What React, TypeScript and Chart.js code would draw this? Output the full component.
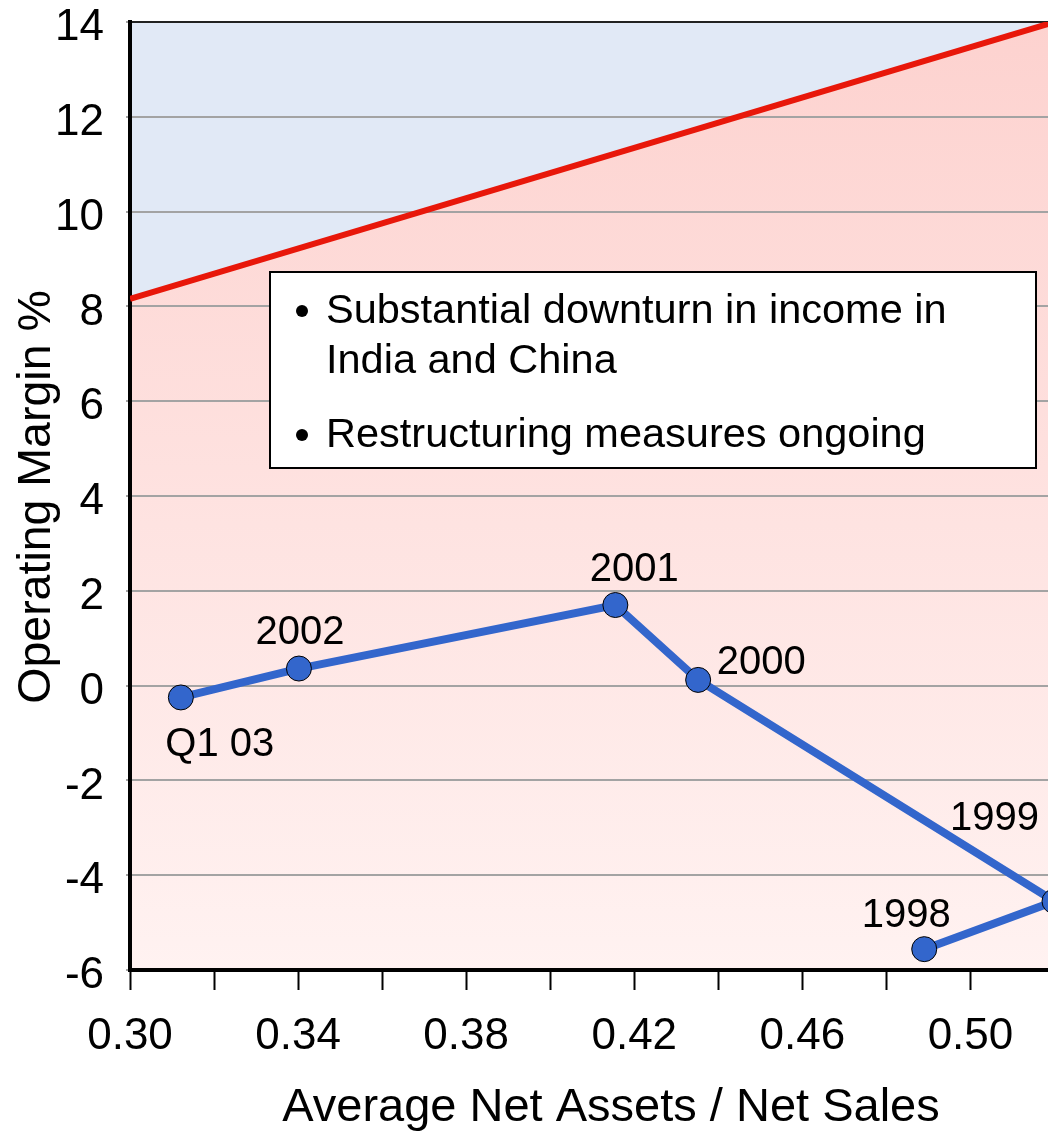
import React, { useEffect, useRef } from 'react';
import { Chart, registerables } from 'chart.js';

Chart.register(...registerables);

// ---- data ----
const pointLabels = ['Q1 03', '2002', '2001', '2000', '1999', '1998'];
const netAssetsRatio = [0.3121, 0.3402, 0.4155, 0.4352, 0.52, 0.489];
const operatingMargin = [-0.25, 0.36, 1.7, 0.12, -4.55, -5.56];
const thresholdX = [0.3, 0.52];
const thresholdY = [8.16, 14.0];
const xMajorTicks = ['0.30', '0.34', '0.38', '0.42', '0.46', '0.50'];
const xTitle = 'Average Net Assets / Net Sales';
const yTitle = 'Operating Margin %';
const noteBullets = ['Substantial downturn in income in|India and China', 'Restructuring measures ongoing'];

// ---- style ----
const FONT = '"Liberation Sans", Arial, Helvetica, sans-serif';
const labelOffsets = [
  [39, 59],
  [1, -25],
  [19, -24],
  [63, -6],
  [-60, -71],
  [-18, -22],
];

const backgroundPlugin = {
  id: 'bgZones',
  beforeDraw(chart: any) {
    const { ctx, chartArea, scales } = chart;
    const { left, right, top, bottom } = chartArea;
    const xs = scales.x;
    const ys = scales.y;
    ctx.save();
    const g = ctx.createLinearGradient(0, top, 0, bottom);
    g.addColorStop(0, '#fdd2cf');
    g.addColorStop(1, '#fff2f1');
    ctx.fillStyle = g;
    ctx.fillRect(left, top, right - left, bottom - top);
    ctx.beginPath();
    ctx.rect(left, top, right - left, bottom - top);
    ctx.clip();
    const x0 = xs.getPixelForValue(thresholdX[0]);
    const x1 = xs.getPixelForValue(thresholdX[1]);
    const y0 = ys.getPixelForValue(thresholdY[0]);
    const y1 = ys.getPixelForValue(thresholdY[1]);
    ctx.beginPath();
    ctx.moveTo(x0, y0);
    ctx.lineTo(x1, y1);
    ctx.lineTo(x1, top - 5);
    ctx.lineTo(x0, top - 5);
    ctx.closePath();
    ctx.fillStyle = '#e1e9f6';
    ctx.fill();
    ctx.restore();
  },
};

const annotationPlugin = {
  id: 'notes',
  afterDatasetsDraw(chart: any) {
    const { ctx } = chart;
    ctx.save();
    // point labels
    const meta = chart.getDatasetMeta(1);
    ctx.font = `40px ${FONT}`;
    ctx.fillStyle = '#000';
    ctx.textAlign = 'center';
    ctx.textBaseline = 'alphabetic';
    meta.data.forEach((pt: any, i: number) => {
      const [dx, dy] = labelOffsets[i];
      ctx.fillText(pointLabels[i], pt.x + dx, pt.y + dy);
    });
    // note box
    const bx = 270, by = 272, bw = 766, bh = 196;
    ctx.fillStyle = '#fff';
    ctx.fillRect(bx, by, bw, bh);
    ctx.strokeStyle = '#000';
    ctx.lineWidth = 2;
    ctx.strokeRect(bx, by, bw, bh);
    ctx.fillStyle = '#000';
    ctx.textAlign = 'left';
    ctx.font = `41.5px ${FONT}`;
    const baselines = [[323, 373], [447]];
    noteBullets.forEach((b, i) => {
      const lines = b.split('|');
      const bl = baselines[i];
      ctx.beginPath();
      ctx.arc(302, bl[0] - 12, 6, 0, Math.PI * 2);
      ctx.fill();
      lines.forEach((ln, j) => ctx.fillText(ln, 326, bl[j]));
    });
    ctx.restore();
  },
  afterDraw(chart: any) {
    const { ctx } = chart;
    ctx.save();
    ctx.fillStyle = '#000';
    ctx.font = `47px ${FONT}`;
    ctx.textAlign = 'center';
    ctx.textBaseline = 'middle';
    ctx.fillText(xTitle, 611, 1108);
    ctx.translate(37, 497);
    ctx.rotate(-Math.PI / 2);
    ctx.font = `46.5px ${FONT}`;
    ctx.fillText(yTitle, 0, 0);
    ctx.restore();
  },
};

export default function App() {
  const ref = useRef<HTMLCanvasElement | null>(null);
  useEffect(() => {
    if (!ref.current) return;
    const chart = new Chart(ref.current, {
      type: 'scatter',
      data: {
        datasets: [
          {
            label: 'threshold',
            data: thresholdX.map((x, i) => ({ x, y: thresholdY[i] })),
            showLine: true,
            borderColor: '#e8170a',
            borderWidth: 6,
            pointRadius: 0,
          },
          {
            label: 'margin',
            data: netAssetsRatio.map((x, i) => ({ x, y: operatingMargin[i] })),
            showLine: true,
            borderColor: '#3366cc',
            borderWidth: 8,
            backgroundColor: '#3366cc',
            pointBackgroundColor: '#3366cc',
            pointBorderColor: '#000',
            pointBorderWidth: 1,
            pointRadius: 12.5,
            clip: false as any,
          },
        ],
      },
      options: {
        responsive: false,
        animation: false,
        events: [],
        layout: { padding: { top: 22, right: 6, left: 0, bottom: 0 } },
        plugins: { legend: { display: false }, tooltip: { enabled: false } },
        scales: {
          x: {
            type: 'linear',
            min: 0.3,
            max: 0.52,
            border: { display: true, color: '#000', width: 4 },
            grid: {
              drawOnChartArea: false,
              drawTicks: true,
              tickLength: 20,
              tickColor: '#000',
              tickWidth: 2,
            },
            ticks: {
              stepSize: 0.02,
              includeBounds: false,
              autoSkip: false,
              maxRotation: 0,
              padding: 20,
              color: '#000',
              font: { size: 44, family: FONT },
              callback: (v: any) => {
                const s = Number(v).toFixed(2);
                return xMajorTicks.includes(s) ? s : '';
              },
            },
            afterFit: (s: any) => {
              s.height = 161;
              s.paddingLeft = 0;
              s.paddingRight = 0;
            },
          },
          y: {
            type: 'linear',
            min: -6,
            max: 14,
            border: { display: true, color: '#000', width: 4 },
            grid: {
              color: (c: any) => (c.tick && c.tick.value === 14 ? '#222' : '#a3a3a3'),
              lineWidth: 2,
              tickLength: 4,
              tickColor: '#a3a3a3',
            },
            ticks: {
              stepSize: 2,
              padding: 22,
              labelOffset: 6,
              color: '#000',
              font: { size: 44, family: FONT },
            },
            afterFit: (s: any) => {
              s.width = 130;
              s.paddingTop = 0;
              s.paddingBottom = 0;
            },
          },
        },
      },
      plugins: [backgroundPlugin, annotationPlugin],
    } as any);
    return () => chart.destroy();
  }, []);
  return (
    <div style={{ position: 'absolute', left: 0, top: 0, width: 1048, height: 1131, overflow: 'hidden', background: '#fff' }}>
      <canvas ref={ref} width={1068} height={1131} style={{ display: 'block' }} />
    </div>
  );
}
